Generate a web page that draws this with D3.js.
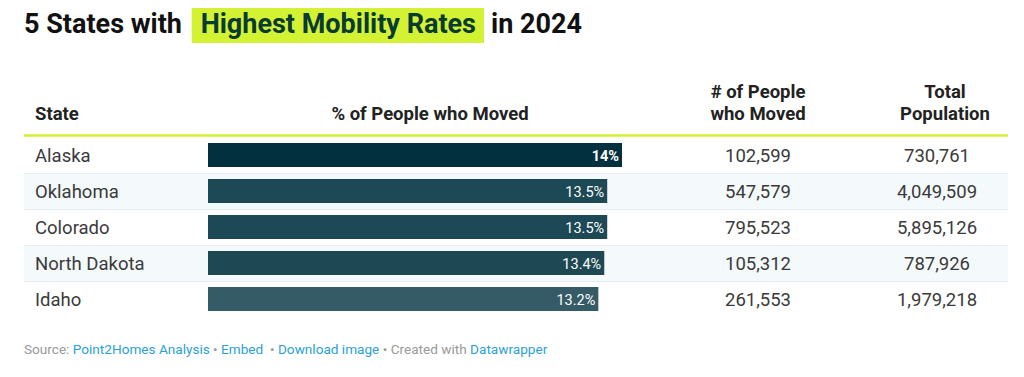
<!DOCTYPE html>
<html><head><meta charset="utf-8">
<script src="https://cdn.jsdelivr.net/npm/d3@7"></script>
<style>body{margin:0;background:#fff;} svg{display:block;font-family:Roboto,sans-serif;} text{white-space:pre;}</style>
</head><body>
<svg id="c" width="1024" height="377"></svg>
<script>
const states = ["Alaska","Oklahoma","Colorado","North Dakota","Idaho"];
const pctMoved = [14, 13.5, 13.5, 13.4, 13.2];
const pctLabels = ["14%","13.5%","13.5%","13.4%","13.2%"];
const peopleMoved = [102599, 547579, 795523, 105312, 261553];
const totalPop = [730761, 4049509, 5895126, 787926, 1979218];
const barColors = ["#03303e","#1d4856","#1d4856","#1e4854","#355b67"];

const svg = d3.select("#c");
const fmt = d3.format(",");

// Title
const title = svg.append("text").attr("x",24).attr("y",33)
  .attr("font-size",27).attr("font-weight",700).attr("fill","#111");
title.append("tspan").text("5 States with ");
title.append("tspan").attr("dx",12).attr("fill","#083b33").text("Highest Mobility Rates");
title.append("tspan").attr("dx",15).text("in 2024");
const n = title.node();
const s2 = n.getStartPositionOfChar(14).x - 9;
const e2 = n.getEndPositionOfChar(14 + "Highest Mobility Rates".length - 1).x + 8;
svg.insert("rect","text").attr("x",s2).attr("y",8).attr("width",e2-s2).attr("height",35).attr("fill","#d3f233");

// Layout scales
const left = 24, right = 1008;
const y = d3.scaleBand().domain(states).range([137,317]).paddingInner(0);
const x = d3.scaleLinear().domain([0,14]).range([208,622]);

// Header
const hdr = svg.append("g").attr("font-size",18.5).attr("font-weight",700).attr("fill","#222");
hdr.append("text").attr("x",35).attr("y",120).text("State");
hdr.append("text").attr("x",430).attr("y",120).attr("text-anchor","middle").text("% of People who Moved");
hdr.append("text").attr("x",758).attr("y",98).attr("text-anchor","middle").text("# of People");
hdr.append("text").attr("x",758).attr("y",120).attr("text-anchor","middle").text("who Moved");
hdr.append("text").attr("x",945).attr("y",98).attr("text-anchor","middle").text("Total");
hdr.append("text").attr("x",945).attr("y",120).attr("text-anchor","middle").text("Population");

// Rows
const rows = svg.append("g").selectAll("g").data(states).join("g")
  .attr("transform", d => `translate(0,${y(d)})`);
rows.append("rect").attr("x",left).attr("width",right-left).attr("height",y.bandwidth())
  .attr("fill",(d,i)=> i%2===1 ? "#f4f9fb" : "#fff");
rows.filter((d,i)=>i>0).append("line").attr("x1",left).attr("x2",right).attr("y1",0.5).attr("y2",0.5)
  .attr("stroke","#e6ebed");
rows.append("text").attr("x",35).attr("y",y.bandwidth()/2+6.5).attr("font-size",18.5).attr("fill","#3a3a3a").text(d=>d);
rows.append("rect").attr("x",x(0)).attr("y",6).attr("height",y.bandwidth()-12)
  .attr("width",(d,i)=>x(pctMoved[i])-x(0)).attr("fill",(d,i)=>barColors[i]);
rows.append("text").attr("x",(d,i)=>x(pctMoved[i])-3).attr("y",y.bandwidth()/2+5.5)
  .attr("text-anchor","end").attr("font-size",14.5).attr("fill","#fff")
  .attr("font-weight",(d,i)=>i===0?700:400).text((d,i)=>pctLabels[i]);
rows.append("text").attr("x",758).attr("y",y.bandwidth()/2+6.5).attr("text-anchor","middle")
  .attr("font-size",18.5).attr("fill","#3a3a3a").text((d,i)=>fmt(peopleMoved[i]));
rows.append("text").attr("x",937).attr("y",y.bandwidth()/2+6.5).attr("text-anchor","middle")
  .attr("font-size",18.5).attr("fill","#3a3a3a").text((d,i)=>fmt(totalPop[i]));

// Header rule
svg.append("line").attr("x1",left).attr("x2",right).attr("y1",135.5).attr("y2",135.5)
  .attr("stroke","#d3f233").attr("stroke-width",2.5);

// Footer
const f = svg.append("text").attr("x",24).attr("y",354).attr("font-size",13.6).attr("fill","#999");
f.append("tspan").text("Source: ");
f.append("tspan").attr("fill","#2b9fd9").text("Point2Homes Analysis");
f.append("tspan").text(" • ");
f.append("tspan").attr("fill","#2b9fd9").text("Embed");
f.append("tspan").text("  • ");
f.append("tspan").attr("fill","#2b9fd9").text("Download image");
f.append("tspan").text(" • Created with ");
f.append("tspan").attr("fill","#2b9fd9").text("Datawrapper");
</script>
</body></html>
